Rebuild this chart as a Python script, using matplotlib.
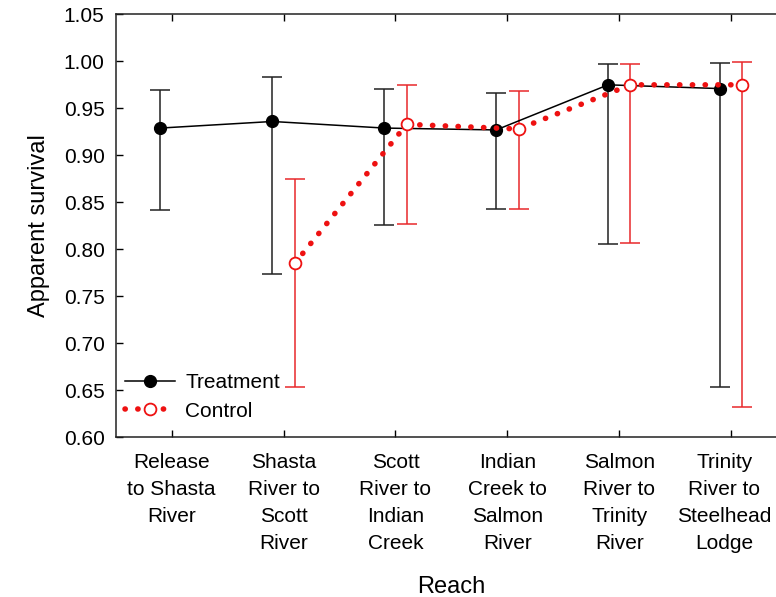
import matplotlib
matplotlib.use("Agg")
from matplotlib import pyplot as plt
from matplotlib.lines import Line2D
from matplotlib.transforms import ScaledTranslation
import numpy as np

plt.rcParams['font.family'] = ['Liberation Sans', 'DejaVu Sans']

# Trechos do rio (eixo x)
reaches = ['Release\nto Shasta\nRiver', 'Shasta\nRiver to\nScott\nRiver',
           'Scott\nRiver to\nIndian\nCreek', 'Indian\nCreek to\nSalmon\nRiver',
           'Salmon\nRiver to\nTrinity\nRiver', 'Trinity\nRiver to\nSteelhead\nLodge']

# Sobrevivência aparente e intervalos - grupo tratamento
treat = [0.929, 0.936, 0.929, 0.927, 0.975, 0.971]
treat_lo = [0.842, 0.774, 0.826, 0.843, 0.806, 0.653]
treat_hi = [0.969, 0.983, 0.971, 0.966, 0.997, 0.998]

# Grupo controle (sem valor no primeiro trecho)
control = [np.nan, 0.785, 0.933, 0.928, 0.975, 0.975]
control_lo = [np.nan, 0.653, 0.827, 0.843, 0.807, 0.632]
control_hi = [np.nan, 0.875, 0.975, 0.968, 0.997, 0.999]

x = np.arange(len(reaches))
treat = np.array(treat)
control = np.array(control)

fig = plt.figure(figsize=(7.76, 5.97), dpi=100)
ax = fig.add_axes([0.149, 0.2675, 0.8654, 0.7085])

# tratamento: linha preta com círculos cheios
xt = x - 0.1
ax.errorbar(xt, treat,
            yerr=[treat - np.array(treat_lo), np.array(treat_hi) - treat],
            fmt='none', ecolor='#222222', elinewidth=1.1, capsize=7.5, capthick=1.1, zorder=2)
ax.plot(xt, treat, color='black', linewidth=1.1, zorder=3)
ax.plot(xt, treat, 'o', color='black', markersize=8.5, zorder=4)

# controle: linha vermelha pontilhada com círculos abertos
dots = (0, (0.05, 2.25))
xc = x + 0.1
ax.errorbar(xc, control,
            yerr=[control - np.array(control_lo), np.array(control_hi) - control],
            fmt='none', ecolor='#e8282b', elinewidth=1.1, capsize=7.5, capthick=1.1, zorder=2)
ax.plot(xc, control, color='#ee1111', linewidth=4, linestyle=dots,
        dash_capstyle='round', zorder=5)
ax.plot(xc, control, 'o', markerfacecolor='white', markeredgecolor='#ee1111',
        markeredgewidth=1.3, markersize=8.5, zorder=6)

ax.set_xlim(-0.5, 5.5)
ax.set_ylim(0.60, 1.05)
ax.set_yticks(np.arange(0.60, 1.051, 0.05))
ax.set_yticklabels(['%.2f' % v for v in np.arange(0.60, 1.051, 0.05)])
ax.set_xticks(x)
ax.set_xticklabels(reaches, linespacing=1.55)

ax.tick_params(axis='both', direction='in', length=5, width=1, labelsize=15, colors='black')
ax.tick_params(axis='x', top=True, pad=11)
ax.tick_params(axis='y', pad=8)
for s in ax.spines.values():
    s.set_linewidth(1.1)
    s.set_color('#222222')

# último rótulo um pouco para a esquerda, como no original
last = ax.get_xticklabels()[-1]
last.set_transform(last.get_transform() + ScaledTranslation(-5 / 72, 0, fig.dpi_scale_trans))

ax.set_xlabel('Reach', fontsize=17, labelpad=16)
ax.set_ylabel('Apparent survival', fontsize=17, labelpad=10)

# legenda montada à mão para mostrar o marcador no meio da linha
h_treat = Line2D([], [], color='black', linewidth=1.1, marker='o', markersize=8.5)
h_ctrl = Line2D([], [], color='#ee1111', linewidth=4, linestyle=dots,
                dash_capstyle='round', marker='o', markerfacecolor='white',
                markeredgecolor='#ee1111', markeredgewidth=1.3, markersize=8.5)
ax.legend([h_treat, h_ctrl], ['Treatment', 'Control'], loc='lower left',
          bbox_to_anchor=(-0.005, 0.01), frameon=False, fontsize=15,
          handlelength=2.4, handletextpad=0.5, labelspacing=0.45, borderaxespad=0.2)

fig.savefig('out.png', dpi=100)
